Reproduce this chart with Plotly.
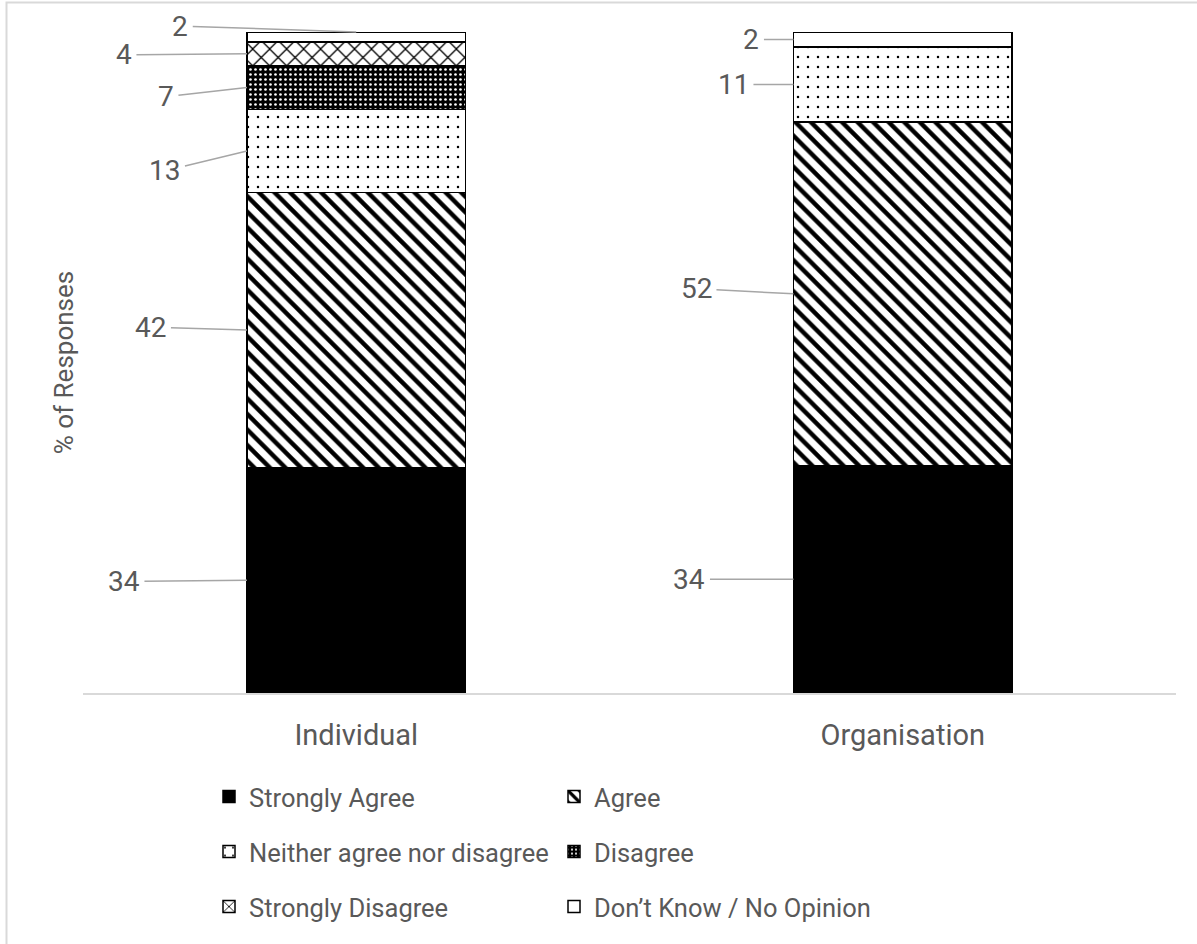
import plotly.graph_objects as go

# ---- data ----
categories = ["Individual", "Organisation"]
series_names = ["Strongly Agree", "Agree", "Neither agree nor disagree",
                "Disagree", "Strongly Disagree", "Don\u2019t Know / No Opinion"]
strongly_agree = [34.1, 34.4]
agree = [41.6, 52.0]
neither = [12.6, 11.3]
disagree = [6.6, 0.0]
strongly_disagree = [3.6, 0.0]
dont_know = [1.5, 2.3]
series_values = [strongly_agree, agree, neither, disagree, strongly_disagree, dont_know]

# ---- styles ----
FONT = "Roboto, 'Liberation Sans', Arial, sans-serif"
TXT = "#595959"
patterns = [
    dict(color="black", pattern=dict(shape="")),
    dict(color="white", pattern=dict(shape="\\", fgcolor="black", bgcolor="white", fgopacity=1, size=11, solidity=0.4)),
    dict(color="white", pattern=dict(shape=".", fgcolor="black", bgcolor="white", fgopacity=1, size=10, solidity=0.05)),
    dict(color="black", pattern=dict(shape=".", fgcolor="white", bgcolor="black", fgopacity=1, size=5, solidity=0.22)),
    dict(color="white", pattern=dict(shape="x", fgcolor="black", bgcolor="white", fgopacity=1, size=12, solidity=0.2)),
    dict(color="white", pattern=dict(shape="")),
]
legend_ids = ["legend", "legend", "legend2", "legend2", "legend3", "legend3"]

# label offsets (pixels, text centre relative to leader-line tip), per category per series
label_offsets = [
    [(-123, 1), (-96, -3), (-82, 20), (-81, 9), (-123, 1), (-176, -6)],
    [(-104, 0), (-97, -5), (-60, 0), None, None, (-42, 0)],
]

BARGAP = 0.6
half_w = (1 - BARGAP) / 2

fig = go.Figure()
for name, vals, mk, lg in zip(series_names, series_values, patterns, legend_ids):
    fig.add_trace(go.Bar(
        x=categories, y=vals, name=name,
        marker=dict(color=mk["color"], pattern=mk["pattern"],
                    line=dict(color="black", width=1.5)),
        legend=lg, hoverinfo="skip",
    ))

annotations = []
for ci, cat in enumerate(categories):
    cum = 0.0
    for si, vals in enumerate(series_values):
        v = vals[ci]
        off = label_offsets[ci][si]
        if v > 0 and off is not None:
            mid = cum + v / 2
            # tiny top segment in the first bar: line points to the top centre
            if ci == 0 and si == len(series_values) - 1:
                tx, ty = ci, cum + v
            else:
                tx, ty = ci - half_w, mid
            annotations.append(dict(
                x=tx, y=ty, xref="x", yref="y", text=str(round(v)),
                showarrow=True, arrowhead=0, arrowwidth=1.5, arrowcolor="#a6a6a6",
                ax=off[0], ay=off[1], borderpad=4,
                font=dict(family=FONT, size=28, color=TXT),
            ))
        cum += v

# full-window figure (page margin removed below); plot area x 83..1176, y 32..693
W, H = 1197, 944
ML, MT = 83, 32
PW = 1093
PH = 661
MR = W - ML - PW
MB = H - MT - PH

shapes = [dict(type="rect", xref="paper", yref="paper",
               x0=(6.5 - ML) / PW, x1=1.2, y0=-0.6, y1=(MT + PH - 2.5) / PH,
               line=dict(color="#d9d9d9", width=2), fillcolor="rgba(0,0,0,0)", layer="below")]

leg_common = dict(orientation="h", xanchor="left", yanchor="middle",
                  font=dict(family=FONT, size=25.5, color=TXT),
                  entrywidth=300, entrywidthmode="pixels",
                  bgcolor="rgba(0,0,0,0)", traceorder="normal")
legx = (209 - ML) / PW

fig.update_layout(
    width=W, height=H,
    margin=dict(l=ML, r=MR, t=MT, b=MB),
    barmode="stack", bargap=BARGAP,
    plot_bgcolor="white", paper_bgcolor="white",
    font=dict(family=FONT, color=TXT),
    xaxis=dict(showline=True, linecolor="#d9d9d9", linewidth=2, ticks="",
               tickfont=dict(family=FONT, size=29, color=TXT), showgrid=False,
               zeroline=False, fixedrange=True, ticklabelstandoff=15),
    yaxis=dict(range=[0, 100], showticklabels=False, showgrid=False, zeroline=False,
               ticks="", fixedrange=True,
               title=dict(text="% of Responses", standoff=0,
                          font=dict(family=FONT, size=26, color=TXT))),
    legend=dict(leg_common, x=legx, y=(MT + PH - 797) / PH),
    legend2=dict(leg_common, x=legx, y=(MT + PH - 852) / PH),
    legend3=dict(leg_common, x=legx, y=(MT + PH - 907) / PH),
    annotations=annotations,
    shapes=shapes,
)

fig.write_html("out.html", config={"displayModeBar": False},
               post_script="document.body.style.margin='0';document.body.style.overflow='hidden';")
